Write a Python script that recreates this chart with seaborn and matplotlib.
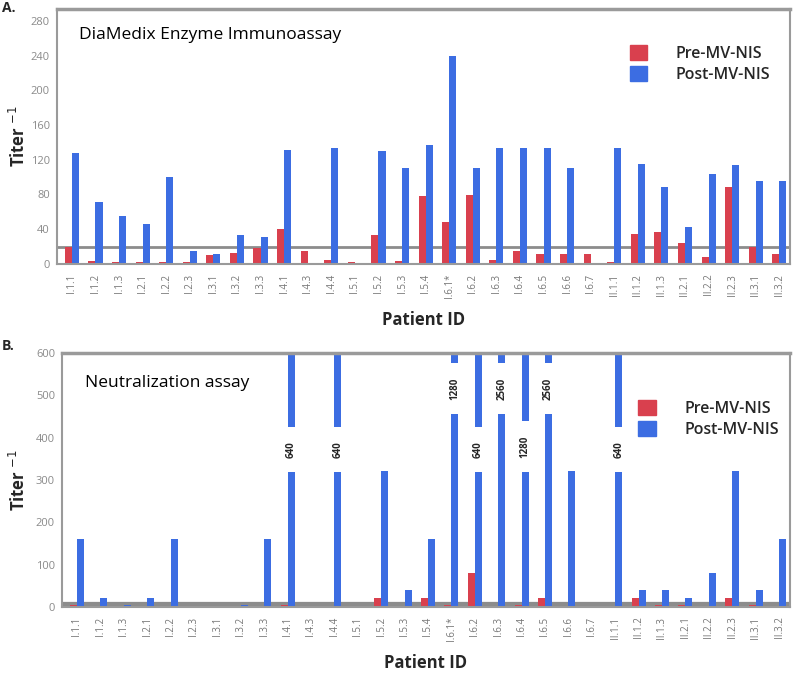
import numpy as np
import pandas as pd
import seaborn as sns
import matplotlib.pyplot as plt
from matplotlib.patches import Rectangle, Patch
from matplotlib.ticker import MultipleLocator

# patient IDs shared by both panels
patients = ['I.1.1', 'I.1.2', 'I.1.3', 'I.2.1', 'I.2.2', 'I.2.3', 'I.3.1', 'I.3.2',
            'I.3.3', 'I.4.1', 'I.4.3', 'I.4.4', 'I.5.1', 'I.5.2', 'I.5.3', 'I.5.4',
            'I.6.1*', 'I.6.2', 'I.6.3', 'I.6.4', 'I.6.5', 'I.6.6', 'I.6.7',
            'II.1.1', 'II.1.2', 'II.1.3', 'II.2.1', 'II.2.2', 'II.2.3', 'II.3.1', 'II.3.2']

# A. DiaMedix enzyme immunoassay titers
eia_pre = [20, 3, 2, 2, 2, 2, 10, 13, 18, 40, 15, 5, 2, 33, 3, 78,
           48, 79, 5, 15, 11, 11, 12, 2, 35, 37, 24, 8, 89, 20, 11]
eia_post = [128, 71, 55, 46, 100, 15, 12, 33, 31, 131, 0, 134, 0, 130, 111, 137,
            240, 111, 134, 134, 134, 111, 0, 134, 115, 89, 43, 104, 114, 95, 95]

# B. Neutralization assay titers
neut_pre = [5, 0, 0, 0, 0, 0, 0, 0, 0, 5, 0, 0, 0, 20, 0, 20,
            5, 80, 0, 5, 20, 0, 0, 0, 20, 5, 5, 0, 20, 5, 0]
neut_post = [160, 20, 5, 20, 160, 0, 0, 5, 160, 640, 0, 640, 0, 320, 40, 160,
             1280, 640, 2560, 1280, 2560, 320, 0, 640, 40, 40, 20, 80, 320, 40, 160]

# where the off-scale bars are broken (y range of the white gap)
breaks = {'I.4.1': (318, 424), 'I.4.4': (318, 424), 'I.6.1*': (455, 577),
          'I.6.2': (318, 424), 'I.6.3': (455, 577), 'I.6.4': (318, 440),
          'I.6.5': (455, 577), 'II.1.1': (318, 424)}

groups = ['Pre-MV-NIS', 'Post-MV-NIS']
RED = '#D9404E'
BLUE = '#3C6DE2'
GRAY = '#8C8C8C'


def to_long(pre, post):
    df = pd.DataFrame({'patient': patients, groups[0]: pre, groups[1]: post})
    return df.melt(id_vars='patient', var_name='group', value_name='titer')


def style_axis(ax, ymax, major, minor, label_x):
    ax.set_ylim(0, ymax)
    ax.set_xlim(-0.64, len(patients) - 0.53)
    ax.yaxis.set_major_locator(MultipleLocator(major))
    ax.yaxis.set_minor_locator(MultipleLocator(minor))
    ax.tick_params(axis='y', which='major', length=4, width=1, color=GRAY,
                   labelsize=8, labelcolor='#8a8a8a', pad=1)
    ax.tick_params(axis='y', which='minor', length=2.5, width=1, color=GRAY)
    ax.tick_params(axis='x', length=0, labelsize=7, labelcolor='#777777',
                   labelrotation=90, pad=7)
    for s in ax.spines.values():
        s.set_color('#9a9a9a')
        s.set_linewidth(1.5)
    ax.spines['top'].set_linewidth(2.5)
    ax.set_ylabel('Titer $^{-1}$', fontsize=12, fontweight='bold')
    ax.yaxis.set_label_coords(label_x, 0.5)
    ax.set_xlabel('Patient ID', fontsize=12, fontweight='bold', labelpad=9)
    handles = [Patch(color=RED), Patch(color=BLUE)]
    return handles


sns.set_style('white')
plt.rcParams['font.family'] = ['Open Sans', 'DejaVu Sans']

fig = plt.figure(figsize=(8, 6.75), dpi=100)
ax_a = fig.add_axes([0.071, 0.609, 0.917, 0.378])
ax_b = fig.add_axes([0.0775, 0.101, 0.91, 0.376])

palette = {groups[0]: RED, groups[1]: BLUE}

# panel A
df_a = to_long(eia_pre, eia_post)
ax_a.axhline(20, color=GRAY, lw=2, zorder=1)
sns.barplot(data=df_a, x='patient', y='titer', hue='group', palette=palette,
            width=0.6, saturation=1, errorbar=None, legend=False, linewidth=0,
            ax=ax_a, zorder=2)
h = style_axis(ax_a, 294, 40, 20, -0.038)
ax_a.text(0.030, 0.898, 'DiaMedix Enzyme Immunoassay', transform=ax_a.transAxes,
          fontsize=12.5, va='center', color='black')
ax_a.legend(h, groups, loc='upper left', bbox_to_anchor=(0.772, 0.885), frameon=False,
            handlelength=1.1, handleheight=1.1, handletextpad=1.8, labelspacing=0.25,
            borderaxespad=0, prop={'size': 11.5, 'weight': 'semibold'})

# panel B
df_b = to_long(neut_pre, neut_post)
ax_b.axhline(4, color=GRAY, lw=4.5, zorder=1)
sns.barplot(data=df_b, x='patient', y='titer', hue='group', palette=palette,
            width=0.6, saturation=1, errorbar=None, legend=False, linewidth=0,
            ax=ax_b, zorder=2)
h = style_axis(ax_b, 600, 100, 20, -0.046)
ax_b.text(0.032, 0.882, 'Neutralization assay', transform=ax_b.transAxes,
          fontsize=12.5, va='center', color='black')
ax_b.legend(h, groups, loc='upper left', bbox_to_anchor=(0.783, 0.84), frameon=False,
            handlelength=1.1, handleheight=1.1, handletextpad=1.8, labelspacing=0.25,
            borderaxespad=0, prop={'size': 11.5, 'weight': 'semibold'})

# break the off-scale post bars and write their real titer in the gap
post_bars = ax_b.containers[1]
for bar, pid, val in zip(post_bars, patients, neut_post):
    if pid in breaks:
        lo, hi = breaks[pid]
        x, w = bar.get_x(), bar.get_width()
        ax_b.add_patch(Rectangle((x - 0.02, lo), w + 0.04, hi - lo,
                                 facecolor='white', edgecolor='none', zorder=3))
        ax_b.text(x + w / 2, (lo + hi) / 2, str(val), rotation=90, ha='center',
                  va='center', fontsize=7, fontweight='bold', zorder=4)

fig.text(0.002, 0.988, 'A.', fontsize=10, fontweight='bold', va='center')
fig.text(0.002, 0.488, 'B.', fontsize=10, fontweight='bold', va='center')

fig.savefig('out.png', dpi=100)
